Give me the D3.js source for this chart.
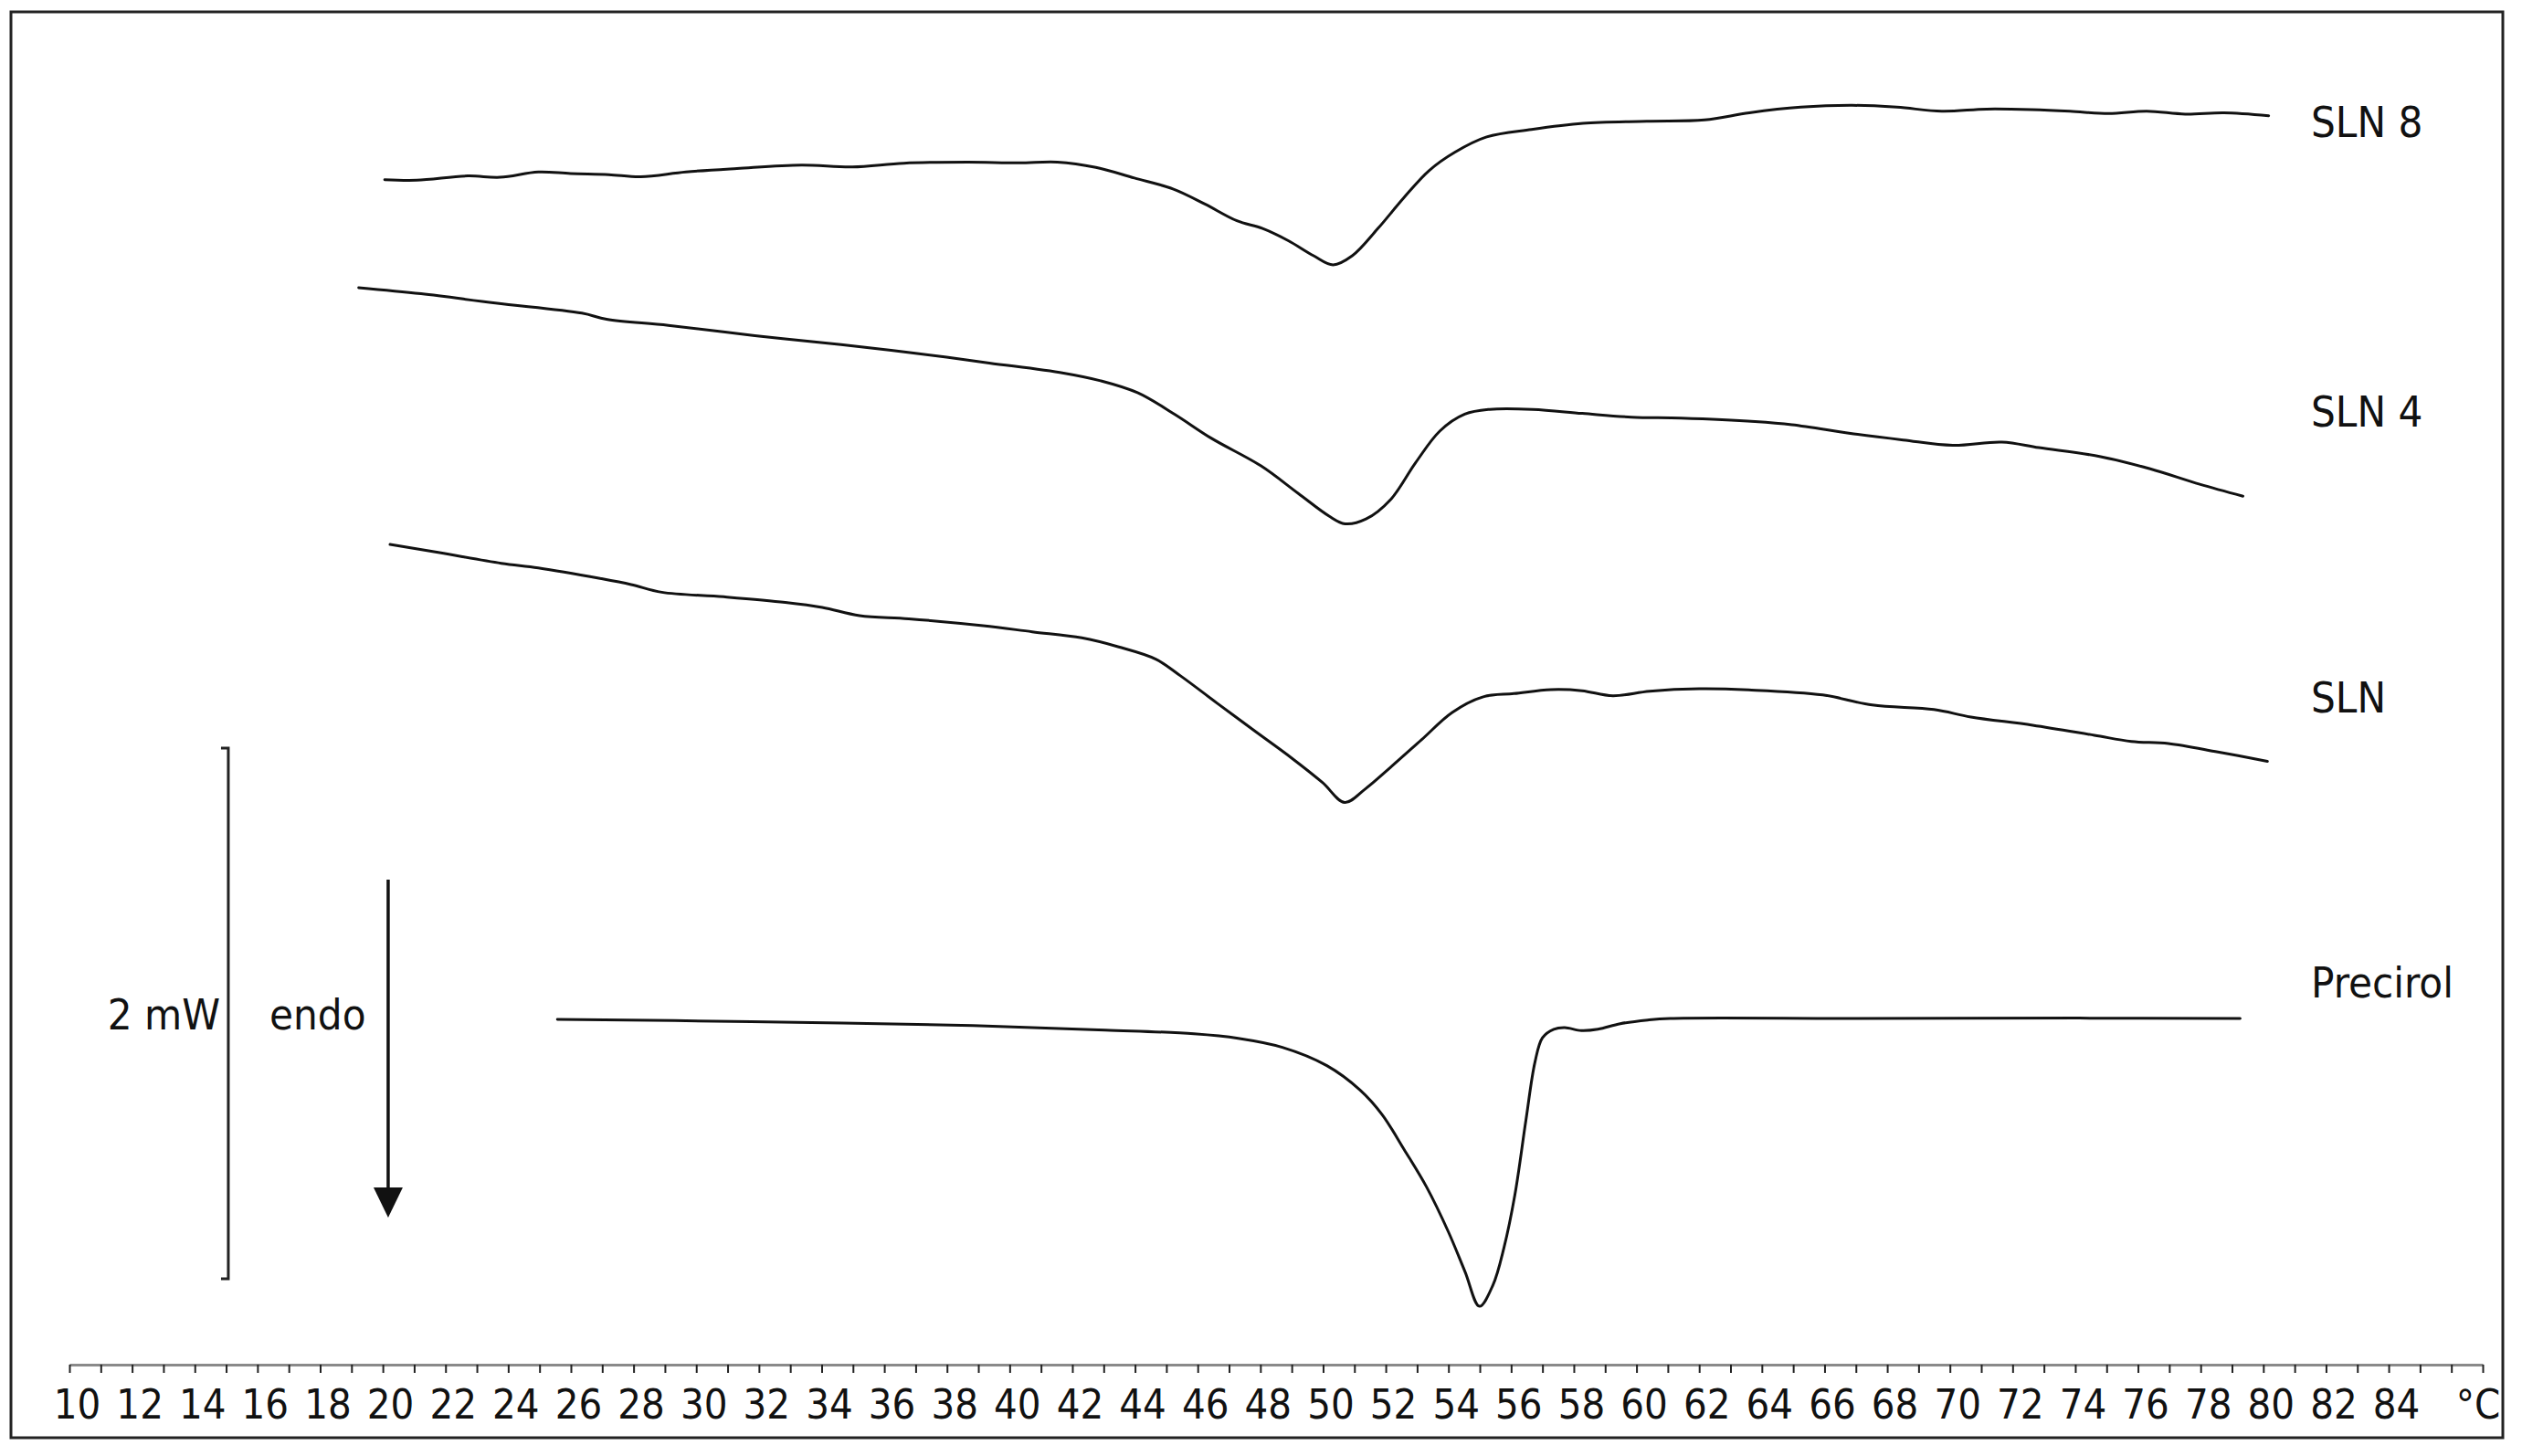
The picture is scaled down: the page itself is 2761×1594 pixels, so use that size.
<!DOCTYPE html>
<html>
<head>
<meta charset="utf-8">
<script src="https://cdn.jsdelivr.net/npm/d3@7/dist/d3.min.js"></script>
<style>
  html, body { margin: 0; padding: 0; background: #fff; }
  svg { display: block; }
  text { font-family: "DejaVu Sans Condensed", "DejaVu Sans", sans-serif; fill: #111; }
</style>
</head>
<body>
<script>
// ---- data: temperature (°C), heat flow (mW, offset traces) ----
const sln8 = [[20.06,4.466],[21.08,4.464],[22.71,4.480],[23.74,4.475],[24.96,4.495],[25.99,4.489],[27.21,4.485],[28.23,4.477],[29.67,4.495],[31.30,4.508],[33.35,4.521],[34.98,4.514],[36.62,4.528],[38.66,4.532],[40.30,4.529],[41.52,4.532],[42.75,4.512],[43.98,4.472],[45.21,4.431],[46.23,4.374],[47.25,4.311],[48.07,4.282],[48.89,4.236],[49.70,4.179],[50.32,4.145],[50.93,4.179],[51.75,4.282],[52.57,4.397],[53.38,4.500],[54.20,4.569],[55.22,4.627],[56.65,4.655],[58.29,4.678],[60.33,4.686],[62.17,4.691],[63.60,4.718],[65.24,4.739],[66.88,4.746],[68.31,4.739],[69.74,4.724],[71.17,4.732],[72.60,4.730],[73.83,4.724],[75.06,4.715],[76.28,4.724],[77.51,4.713],[78.74,4.718],[80.17,4.707]];
const sln4 = [[19.23,4.059],[21.22,4.036],[23.59,4.001],[26.35,3.963],[27.14,3.940],[29.11,3.917],[31.87,3.878],[34.62,3.844],[36.99,3.812],[39.35,3.775],[41.72,3.737],[42.90,3.708],[44.08,3.663],[45.26,3.582],[46.44,3.491],[48.02,3.387],[49.20,3.284],[50.19,3.198],[50.70,3.169],[51.37,3.187],[52.16,3.261],[52.95,3.399],[53.73,3.519],[54.52,3.582],[55.31,3.600],[56.69,3.600],[58.27,3.585],[59.84,3.571],[61.42,3.567],[63.78,3.554],[64.96,3.542],[66.93,3.508],[68.51,3.485],[70.09,3.465],[71.66,3.477],[72.84,3.456],[74.81,3.422],[76.39,3.376],[77.97,3.318],[79.35,3.273]];
const sln = [[20.23,3.091],[21.81,3.060],[23.78,3.020],[24.96,3.003],[26.93,2.963],[27.92,2.940],[28.90,2.911],[30.87,2.894],[32.84,2.873],[34.02,2.854],[35.21,2.823],[36.78,2.811],[39.15,2.785],[40.72,2.762],[42.30,2.739],[43.48,2.705],[44.66,2.659],[45.45,2.596],[46.63,2.492],[47.81,2.389],[49.00,2.286],[49.98,2.194],[50.69,2.119],[51.36,2.171],[52.15,2.251],[53.14,2.355],[54.12,2.458],[55.11,2.517],[56.09,2.529],[57.27,2.544],[58.26,2.540],[59.24,2.521],[60.42,2.538],[62.00,2.547],[63.58,2.543],[65.94,2.524],[67.52,2.486],[69.49,2.469],[70.67,2.441],[72.64,2.410],[74.61,2.372],[75.79,2.349],[76.97,2.341],[78.55,2.309],[80.13,2.274]];
const precirol = [[25.57,1.301],[31.75,1.293],[38.82,1.278],[43.05,1.261],[45.88,1.247],[47.29,1.230],[48.70,1.196],[50.12,1.127],[51.18,1.035],[51.88,0.943],[52.59,0.810],[53.30,0.670],[54.00,0.500],[54.53,0.350],[54.99,0.220],[55.42,0.300],[55.77,0.440],[56.12,0.640],[56.47,0.920],[56.76,1.140],[57.00,1.232],[57.36,1.264],[57.71,1.270],[58.24,1.259],[58.77,1.264],[59.48,1.285],[60.36,1.299],[61.07,1.305],[67.07,1.305],[74.13,1.306],[79.26,1.305]];

const seriesNames = ["SLN 8", "SLN 4", "SLN", "Precirol"];
const seriesData = [sln8, sln4, sln, precirol];
const labelValues = [4.627, 3.535, 2.458, 1.384];   // mW level of each trace label

const tickValues = d3.range(10, 88);                  // 1 °C minor ticks
const labelTicks = d3.range(10, 85, 2);               // labelled every 2 °C
const unitLabel = "°C";

const scaleBar = { t: 15.07, from: 0.324, to: 2.324, text: "2 mW" };
const endoArrow = { t: 20.17, from: 1.828, to: 0.554, text: "endo" };

// ---- drawing ----
const W = 2761, H = 1594;
const svg = d3.select("body").append("svg").attr("width", W).attr("height", H);
svg.append("rect").attr("width", W).attr("height", H).attr("fill", "#fff");

const x = d3.scaleLinear().domain([10, 87]).range([76, 2718]);
const y = d3.scaleLinear().domain([0, 5.1]).range([1494, 12.5]);

// frame
svg.append("rect").attr("x", 12).attr("y", 13).attr("width", 2728).attr("height", 1561)
  .attr("fill", "none").attr("stroke", "#222").attr("stroke-width", 3);

// x axis
const axis = d3.axisBottom(x).tickValues(tickValues).tickSize(9).tickSizeOuter(0)
  .tickFormat(d => labelTicks.includes(d) ? d : "");
const gx = svg.append("g").attr("transform", `translate(0,${y(0)})`).call(axis);
gx.select(".domain").attr("stroke", "#8a8a8a").attr("stroke-width", 3);
gx.selectAll(".tick line").attr("stroke", "#222").attr("stroke-width", 2);
gx.selectAll(".tick text").attr("font-size", 45).attr("fill", "#111")
  .attr("font-family", "'DejaVu Sans Condensed', 'DejaVu Sans', sans-serif")
  .attr("dx", 8).attr("y", 59).attr("dy", 0);
svg.append("text").attr("x", x(87) - 5).attr("y", y(0) + 59).attr("text-anchor", "middle")
  .attr("font-size", 45).text(unitLabel);

// traces
const line = d3.line().x(d => x(d[0])).y(d => y(d[1])).curve(d3.curveCatmullRom.alpha(0.5));
svg.append("g").selectAll("path").data(seriesData).join("path")
  .attr("d", line).attr("fill", "none").attr("stroke", "#111")
  .attr("stroke-width", 3).attr("stroke-linejoin", "round").attr("stroke-linecap", "round");

// trace labels
svg.append("g").selectAll("text").data(seriesNames).join("text")
  .attr("x", 2530).attr("y", (d, i) => y(labelValues[i]))
  .attr("font-size", 47).text(d => d);

// scale bar (2 mW)
const sbx = x(scaleBar.t);
svg.append("path")
  .attr("d", `M${sbx - 8},${y(scaleBar.to)}H${sbx}V${y(scaleBar.from)}H${sbx - 8}`)
  .attr("fill", "none").attr("stroke", "#222").attr("stroke-width", 3);
svg.append("text").attr("x", 241).attr("y", y((scaleBar.from + scaleBar.to) / 2) + 18)
  .attr("text-anchor", "end").attr("font-size", 47).text(scaleBar.text);

// endo arrow
const ax = x(endoArrow.t);
const tipY = y(endoArrow.to);
svg.append("line").attr("x1", ax).attr("x2", ax).attr("y1", y(endoArrow.from)).attr("y2", tipY - 25)
  .attr("stroke", "#111").attr("stroke-width", 3.5);
svg.append("path").attr("d", `M${ax - 16},${tipY - 33}L${ax + 16},${tipY - 33}L${ax},${tipY}Z`)
  .attr("fill", "#111");
svg.append("text").attr("x", 295).attr("y", y((scaleBar.from + scaleBar.to) / 2) + 18)
  .attr("font-size", 47).text(endoArrow.text);
</script>
</body>
</html>
